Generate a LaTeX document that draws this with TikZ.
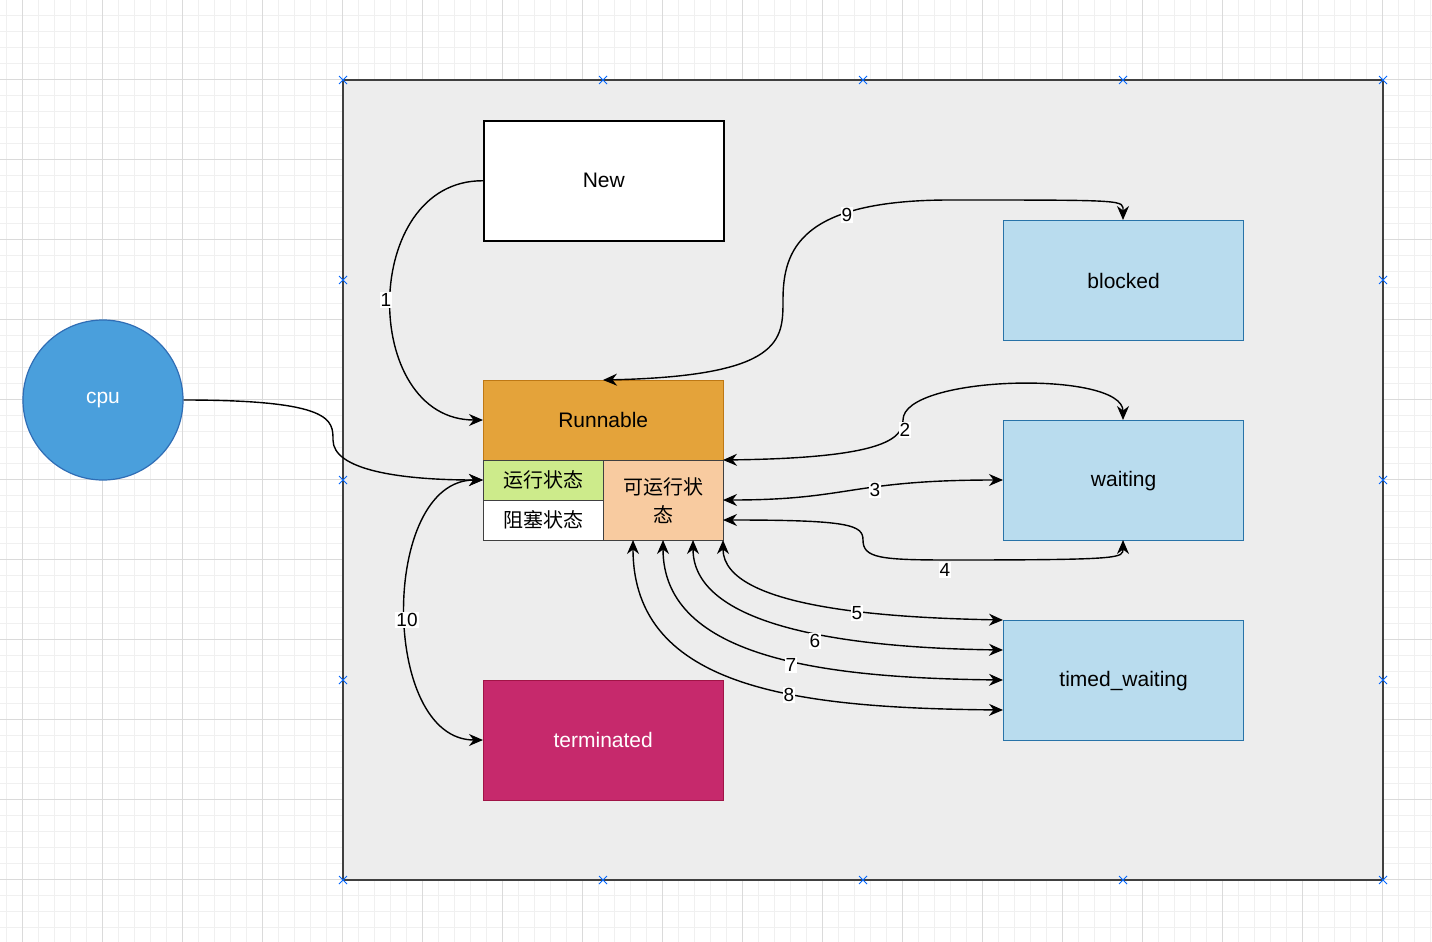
\documentclass[tikz,border=0pt]{standalone}
\usepackage{fontspec}
\setmainfont{Liberation Sans}
\newfontfamily\cjk{Noto Sans CJK SC}
\usetikzlibrary{arrows.meta}
\definecolor{gridminor}{HTML}{F0F0F0}
\definecolor{gridmajor}{HTML}{DADADA}
\definecolor{bluefill}{HTML}{B9DCEE}
\definecolor{blueline}{HTML}{2873A8}
\begin{document}
\begin{tikzpicture}[x=1pt,y=-1pt,
  box/.style={draw,minimum width=240,minimum height=120,anchor=north west,inner sep=0,font=\fontsize{21}{24}\selectfont},
  st/.style={box,fill=bluefill,draw=blueline,line width=1.2},
  ed/.style={draw=black,line width=1.4,{Stealth[length=14,width=12]}-{Stealth[length=14,width=12]}},
  ed1/.style={draw=black,line width=1.4,-{Stealth[length=14,width=12]}},
  lb/.style={fill=white,inner sep=1,font=\fontsize{19}{21}\selectfont},
  mk/.style={draw=blue!60!cyan,line width=1}]
\useasboundingbox (0,0) rectangle (1432,942);
\fill[white] (0,0) rectangle (1432,942);
\foreach \x in {6,22,...,1432} \draw[gridminor] (\x,0)--(\x,942);
\foreach \y in {15,31,...,942} \draw[gridminor] (0,\y)--(1432,\y);
\foreach \x in {22,102,...,1432} \draw[gridmajor] (\x,0)--(\x,942);
\foreach \y in {79,159,...,942} \draw[gridmajor] (0,\y)--(1432,\y);
\draw[fill=black!7,draw=black!75,line width=1.2] (343,80) rectangle (1383,880);
\foreach \x in {343,603,863,1123,1383}{\foreach \y in {80,880}{\draw[mk] (\x-4,\y-4)--(\x+4,\y+4) (\x-4,\y+4)--(\x+4,\y-4);}}
\foreach \x in {343,1383}{\foreach \y in {280,480,680}{\draw[mk] (\x-4,\y-4)--(\x+4,\y+4) (\x-4,\y+4)--(\x+4,\y-4);}}
\node[box,fill=white,line width=1.5] (new) at (483,120) {New};
\node[st] (blocked) at (1003,220) {blocked};
\node[st] (waiting) at (1003,420) {waiting};
\node[st] (timed) at (1003,620) {timed\_waiting};
\node[box,minimum height=80,fill={rgb,255:red,228;green,163;blue,58},draw={rgb,255:red,190;green,120;blue,20}] (run) at (483,380) {Runnable};
\node[box,minimum width=120,minimum height=40,fill={rgb,255:red,205;green,235;blue,139},draw=black!75,font=\cjk\fontsize{20}{24}\selectfont] (yx) at (483,460) {运行状态};
\node[box,minimum width=120,minimum height=40,fill=white,draw=black!75,font=\cjk\fontsize{20}{24}\selectfont] (zs) at (483,500) {阻塞状态};
\node[box,minimum width=120,minimum height=80,fill={rgb,255:red,248;green,203;blue,160},draw=black!75,font=\cjk\fontsize{20}{28}\selectfont,align=center] (ky) at (603,460) {可运行状\\态};
\node[box,fill={rgb,255:red,198;green,41;blue,108},draw={rgb,255:red,160;green,20;blue,70},text=white] (term) at (483,680) {terminated};
\node[circle,minimum size=160,fill={rgb,255:red,74;green,159;blue,220},draw={rgb,255:red,47;green,109;blue,181},line width=1.2,text=white,font=\fontsize{21}{24}\selectfont] (cpu) at (103,400) {cpu};
% edges
\coordinate (rl) at (483,420);
\draw[ed1] (new.west) .. controls (360,180) and (360,420) .. (rl);
\node[lb] at (386,300) {1};
\coordinate (rt) at (603,380);
\coordinate (bt) at (1123,220);
\draw[ed] (rt) .. controls (783,376) and (783,340) .. (783,300) .. controls (783,250) and (800,200) .. (950,200) .. controls (1130,200) and (1123,200) .. (bt);
\node[lb] at (847,215) {9};
\coordinate (a2) at (723,460); \coordinate (wt) at (1123,420);
\draw[ed] (a2) .. controls (880,458) and (903,440) .. (903,420) .. controls (903,375) and (1123,370) .. (wt);
\node[lb] at (905,430) {2};
\coordinate (a3) at (723,500); \coordinate (wl) at (1003,480);
\draw[ed] (a3) .. controls (850,500) and (850,480) .. (wl);
\node[lb] at (875,490) {3};
\coordinate (a4) at (723,520); \coordinate (wb) at (1123,540);
\draw[ed] (a4) .. controls (850,520) and (863,525) .. (863,540) .. controls (863,558) and (880,560) .. (950,560) .. controls (1123,560) and (1123,558) .. (wb);
\node[lb] at (945,570) {4};
\coordinate (a5) at (723,540); \coordinate (t5) at (1003,620);
\coordinate (a6) at (693,540); \coordinate (t6) at (1003,650);
\coordinate (a7) at (663,540); \coordinate (t7) at (1003,680);
\coordinate (a8) at (633,540); \coordinate (t8) at (1003,710);
\draw[ed] (a5) .. controls (723,610) and (900,618) .. (t5);
\draw[ed] (a6) .. controls (693,630) and (860,648) .. (t6);
\draw[ed] (a7) .. controls (663,660) and (830,678) .. (t7);
\draw[ed] (a8) .. controls (633,690) and (800,708) .. (t8);
\node[lb] at (857,613) {5};
\node[lb] at (815,641) {6};
\node[lb] at (791,665) {7};
\node[lb] at (789,695) {8};
\coordinate (a10) at (483,480); \coordinate (tl) at (483,740);
\draw[ed] (a10) .. controls (380,480) and (380,740) .. (tl);
\node[lb] at (407,620) {10};
\draw[ed1] (cpu.east) .. controls (333,400) and (333,420) .. (333,440) .. controls (333,470) and (400,480) .. (a10);
\end{tikzpicture}
\end{document}
